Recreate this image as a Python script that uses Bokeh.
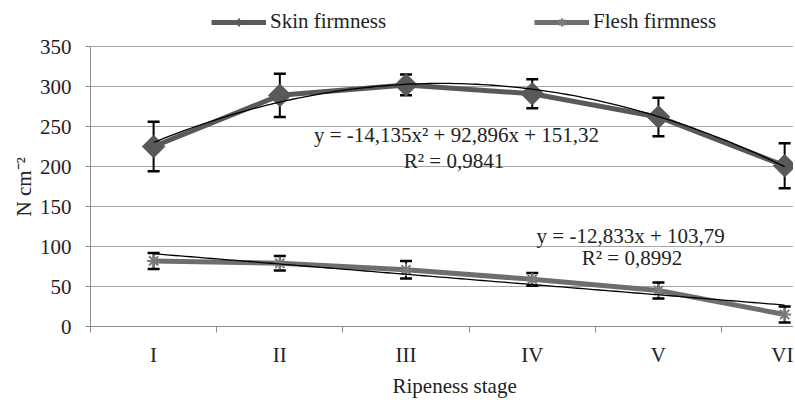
import numpy as np
from bokeh.plotting import figure
from bokeh.models import (FixedTicker, Whisker, ColumnDataSource, Legend,
                          LegendItem, Label, TeeHead, Title)
from bokeh.embed import file_html
from bokeh.resources import INLINE

# ---- data ----
stages = ["I", "II", "III", "IV", "V", "VI"]
skin = [225, 289, 302, 291, 262, 201]
skin_err = [31, 27, 13, 18, 24, 28]
flesh = [82, 79, 71, 59, 45, 15]
flesh_err = [10, 9, 11, 8, 10, 10]
y_ticks = [0, 50, 100, 150, 200, 250, 300, 350]
skin_trend_coef = [-14.135, 92.896, 151.32]   # quadratic trendline
flesh_trend_coef = [-12.833, 103.79]          # linear trendline
skin_eq = ["y = -14,135x² + 92,896x + 151,32", "R² = 0,9841"]
flesh_eq = ["y = -12,833x + 103,79", "R² = 0,8992"]

FONT = "Liberation Serif"
FS = "21px"
TXT = "#222222"

xi = list(range(len(stages)))
src = ColumnDataSource(dict(
    x=xi, skin=skin, flesh=flesh,
    skin_up=[v + e for v, e in zip(skin, skin_err)],
    skin_lo=[v - e for v, e in zip(skin, skin_err)],
    flesh_up=[v + e for v, e in zip(flesh, flesh_err)],
    flesh_lo=[v - e for v, e in zip(flesh, flesh_err)],
))

# frame extends above 350 so the legend can sit in its top strip
p = figure(width=793, height=400, output_backend="svg", toolbar_location=None,
           x_range=(-0.5, 5.07), y_range=(0, 397.6),
           min_border_left=90, min_border_right=0, min_border_top=8,
           min_border_bottom=74)
p.outline_line_color = None
p.background_fill_color = "white"

# axes
p.xaxis.ticker = FixedTicker(ticks=xi, minor_ticks=[i - 0.5 for i in xi])
p.xaxis.major_label_overrides = {i: s for i, s in zip(xi, stages)}
p.xaxis.major_tick_out = 0
p.xaxis.major_tick_in = 0
p.xaxis.minor_tick_out = 6
p.xaxis.minor_tick_in = 0
p.xaxis.minor_tick_line_color = "#8c8c8c"
p.xaxis.axis_line_color = "#8c8c8c"
p.xaxis.major_label_standoff = 10

p.yaxis.ticker = FixedTicker(ticks=y_ticks, minor_ticks=[])
p.yaxis.bounds = (0, 350)
p.yaxis.major_tick_out = 5
p.yaxis.major_tick_in = 0
p.yaxis.major_tick_line_color = "#8c8c8c"
p.yaxis.axis_line_color = "#8c8c8c"
p.yaxis.major_label_standoff = 14

for ax in (p.xaxis, p.yaxis):
    ax.major_label_text_font = FONT
    ax.major_label_text_font_size = FS
    ax.major_label_text_color = TXT

p.add_layout(Title(text="N cm⁻²", align="left", offset=110, standoff=2,
                   text_font=FONT, text_font_size=FS, text_font_style="normal",
                   text_color=TXT), "left")
p.add_layout(Title(text="Ripeness stage", align="left", offset=302, standoff=4,
                   text_font=FONT, text_font_size=FS, text_font_style="normal",
                   text_color=TXT), "below")

p.xgrid.grid_line_color = None
p.ygrid.grid_line_color = "#a6a6a6"
p.ygrid.grid_line_width = 1.2

# error bars
for up, lo in (("skin_up", "skin_lo"), ("flesh_up", "flesh_lo")):
    w = Whisker(base="x", upper=up, lower=lo, source=src, line_color="black",
                line_width=2,
                upper_head=TeeHead(size=12, line_color="black", line_width=2.5),
                lower_head=TeeHead(size=12, line_color="black", line_width=2.5))
    p.add_layout(w)

# series
skin_line = p.line("x", "skin", source=src, line_color="#595959", line_width=5)
skin_mk = p.scatter("x", "skin", source=src, marker="square", angle=np.pi / 4,
                    size=16, fill_color="#595959", line_color="#595959")
flesh_line = p.line("x", "flesh", source=src, line_color="#6e6e6e", line_width=5)
flesh_mk = p.scatter("x", "flesh", source=src, marker="asterisk", size=13,
                     line_color="#7a7a7a", line_width=2)
# hidden renderer that only supplies the diamond key in the legend
skin_key = p.scatter("x", "skin", source=src, marker="diamond", size=14,
                     fill_color="#595959", line_color="#595959", visible=False)

# trendlines (Excel x = 1..6)
t = np.linspace(1, len(stages), 120)
a, b, c = skin_trend_coef
p.line(t - 1, a * t**2 + b * t + c, line_color="black", line_width=1.3)
m, k = flesh_trend_coef
p.line(t - 1, m * t + k, line_color="black", line_width=1.3)

# equation labels
for txt, (lx, ly) in zip(skin_eq + flesh_eq,
                         [(2.40, 240), (2.38, 207), (3.78, 113), (3.79, 85.5)]):
    p.add_layout(Label(x=lx, y=ly, text=txt, text_font=FONT, text_font_size=FS,
                       text_align="center", text_baseline="middle",
                       text_color=TXT))

legend = Legend(items=[LegendItem(label="Skin firmness", renderers=[skin_line, skin_key]),
                       LegendItem(label="Flesh firmness", renderers=[flesh_line, flesh_mk])],
                orientation="horizontal", location=(121, 292), spacing=148,
                padding=0, margin=0, border_line_color=None,
                background_fill_alpha=0, inactive_fill_alpha=0,
                glyph_width=55, glyph_height=20,
                label_standoff=4, label_text_font=FONT, label_text_font_size=FS,
                label_text_color=TXT)
p.add_layout(legend)

open("out.html", "w").write(file_html(p, INLINE))
